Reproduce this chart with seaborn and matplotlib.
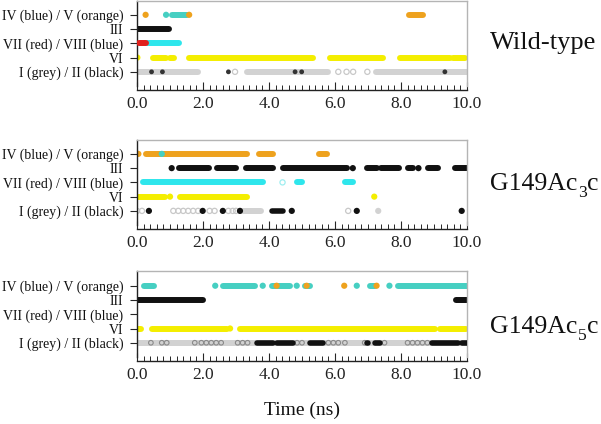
import matplotlib
matplotlib.use("Agg")
import matplotlib.pyplot as plt
import seaborn as sns
import pandas as pd
from matplotlib.ticker import MultipleLocator, FormatStrFormatter

# ---------------- data (time in ns) ----------------
row_labels = ["I (grey) / II (black)", "VI", "VII (red) / VIII (blue)", "III",
              "IV (blue) / V (orange)"]
# (main text, subscript, trailing text)
panel_titles = [("Wild-type", "", ""), ("G149Ac", "3", "c"), ("G149Ac", "5", "c")]

# Wild-type
wt_V = [(0.26, 0.26), (1.58, 1.58), (8.25, 8.68)]
wt_IV = [(0.88, 0.88), (1.05, 1.52)]
wt_III = [(0.0, 0.98)]
wt_VII = [(0.07, 0.27)]
wt_VIII = [(0.29, 1.28)]
wt_VI = [(0.01, 0.01), (0.47, 0.88), (1.0, 1.13), (1.56, 5.32), (5.85, 7.46),
         (7.97, 9.48), (9.58, 9.94)]
wt_I = [(0.04, 1.86), (3.32, 5.8), (7.24, 9.99)]
wt_I_open = [2.97, 6.1, 6.35, 6.55, 6.98]
wt_II = [(0.44, 0.44), (0.77, 0.77), (2.77, 2.77), (4.79, 4.79), (4.99, 4.99),
         (9.33, 9.33)]

# G149Ac3c
c3_V = [(0.04, 0.04), (0.27, 3.32), (3.7, 4.11), (5.53, 5.75)]
c3_IV = [(0.75, 0.75)]
c3_III = [(1.05, 1.05), (1.28, 2.19), (2.41, 3.0), (3.3, 4.11), (4.41, 6.37),
          (6.54, 6.54), (6.98, 7.26), (7.38, 7.95), (8.2, 8.37), (8.53, 8.53),
          (8.83, 9.13), (9.64, 9.99)]
c3_VII = []
c3_VIII = [(0.17, 3.81), (4.84, 4.99), (6.3, 6.54)]
c3_VIII_open = [4.41]
c3_VI = [(0.0, 0.85), (1.0, 1.0), (1.3, 3.32), (7.19, 7.19)]
c3_I = [(3.22, 3.75), (7.31, 7.31)]
c3_I_open = [0.0, 0.15, 1.1, 1.25, 1.4, 1.55, 1.7, 1.85, 2.2, 2.35, 2.77, 2.9,
             3.0, 6.4]
c3_II = [(0.36, 0.36), (1.99, 1.99), (2.6, 2.6), (3.12, 3.12), (4.08, 4.43),
         (4.69, 4.69), (6.66, 6.66), (9.84, 9.84)]

# G149Ac5c
c5_V = [(4.23, 4.23), (5.14, 5.14), (6.28, 6.28), (7.26, 7.26)]
c5_IV = [(0.21, 0.52), (2.37, 2.37), (2.62, 3.58), (3.81, 3.81), (4.08, 4.64),
         (4.84, 4.84), (5.09, 5.24), (6.66, 6.66), (7.06, 7.22), (7.65, 7.65),
         (7.92, 9.99)]
c5_III = [(0.0, 1.99), (9.67, 9.99)]
c5_VII = []
c5_VIII = []
c5_VI = [(0.0, 0.11), (0.44, 2.72), (2.82, 2.82), (3.12, 9.03), (9.18, 9.97)]
c5_I = [(0.0, 9.99)]
c5_I_open = []
c5_I_mid = [0.42, 0.75, 0.9, 1.75, 1.95, 2.1, 2.25, 2.4, 2.55, 3.05, 3.2, 3.35,
            4.85, 5.0, 5.8, 5.95, 6.1, 6.3, 6.9, 7.5, 8.2, 8.35, 8.5, 8.65, 8.8]
c5_II = [(3.63, 4.13), (4.23, 4.73), (5.24, 5.64), (6.98, 7.0), (7.2, 7.35),
         (8.93, 9.74), (9.85, 9.99)]

# ---------------- style ----------------
sns.set_style("white")
plt.rcParams["font.family"] = ["Liberation Serif", "DejaVu Serif"]

C_ORANGE = "#eea21e"
C_TEAL = "#46cfc2"
C_CYAN = "#2ee6ec"
C_YELLOW = "#f4ee00"
C_RED = "#e0201c"
C_GREY = "#d2d2d2"
C_BLACK = "#111111"

LW = 4.3
MS = 20

fig = plt.figure(figsize=(6.01, 4.24), dpi=100)
bottoms = [0.797, 0.469, 0.158]
panels = [
    dict(V=wt_V, IV=wt_IV, III=wt_III, VII=wt_VII, VIII=wt_VIII, VI=wt_VI,
         I=wt_I, I_open=wt_I_open, II=wt_II, VIII_open=[], I_mid=[]),
    dict(V=c3_V, IV=c3_IV, III=c3_III, VII=c3_VII, VIII=c3_VIII, VI=c3_VI,
         I=c3_I, I_open=c3_I_open, II=c3_II, VIII_open=c3_VIII_open, I_mid=[]),
    dict(V=c5_V, IV=c5_IV, III=c5_III, VII=c5_VII, VIII=c5_VIII, VI=c5_VI,
         I=c5_I, I_open=c5_I_open, II=c5_II, VIII_open=[], I_mid=c5_I_mid),
]
title_y = [0.884, 0.552, 0.214]
title_size = [19, 18.5, 18.5]


def draw(ax, segs, row, color, z, s=MS, lw=LW):
    lines = [(a, b) for a, b in segs if b > a]
    dots = [a for a, b in segs if b == a]
    if lines:
        ax.hlines([row] * len(lines), [a for a, _ in lines], [b for _, b in lines],
                  colors=color, linewidth=lw, capstyle="round", zorder=z)
    if dots:
        df = pd.DataFrame({"t": dots, "row": [row] * len(dots)})
        sns.scatterplot(data=df, x="t", y="row", ax=ax, color=color, s=s,
                        edgecolor="none", zorder=z + 0.5, legend=False)


def draw_open(ax, pts, row, color, z, lw=0.9, s=14):
    if pts:
        df = pd.DataFrame({"t": pts, "row": [row] * len(pts)})
        sns.scatterplot(data=df, x="t", y="row", ax=ax, s=s, marker="o",
                        facecolor="none", edgecolor=color, linewidth=lw,
                        zorder=z, legend=False)


for i, p in enumerate(panels):
    ax = fig.add_axes([0.228, bottoms[i], 0.549, 0.2017])
    draw(ax, p["I"], 0, C_GREY, 2)
    draw_open(ax, p["I_open"], 0, "#c8c8c8", 2)
    draw_open(ax, p["I_mid"], 0, "#8a8a8a", 2.2, lw=0.8, s=11)
    if i == 0:
        draw(ax, p["II"], 0, "#333333", 3, s=12)
    else:
        draw(ax, p["II"], 0, C_BLACK, 3, lw=4.0)
    draw(ax, p["VI"], 1, C_YELLOW, 2)
    draw(ax, p["VIII"], 2, C_CYAN, 2)
    draw_open(ax, p["VIII_open"], 2, "#9eeef0", 2)
    draw(ax, p["VII"], 2, C_RED, 3)
    draw(ax, p["III"], 3, C_BLACK, 2)
    if i == 1:
        draw(ax, p["V"], 4, C_ORANGE, 2)
        draw(ax, p["IV"], 4, C_TEAL, 3)
    else:
        draw(ax, p["IV"], 4, C_TEAL, 2)
        draw(ax, p["V"], 4, C_ORANGE, 3)

    ax.set_xlim(0, 10)
    ax.set_ylim(-1.0, 5.0)
    ax.set_xlabel("")
    ax.set_ylabel("")
    ax.set_yticks(range(5))
    ax.set_yticklabels(row_labels, fontsize=10)
    ax.xaxis.set_major_locator(MultipleLocator(2))
    ax.xaxis.set_minor_locator(MultipleLocator(0.2))
    ax.xaxis.set_major_formatter(FormatStrFormatter("%.1f"))
    ax.tick_params(axis="x", which="major", direction="in", length=6, width=0.8,
                   labelsize=12.5, labelcolor="#222222", pad=4, bottom=True)
    ax.tick_params(axis="x", which="minor", direction="in", length=3.5,
                   width=0.7, bottom=True)
    ax.tick_params(axis="y", direction="out", length=5, width=0.8, pad=5,
                   left=True, labelcolor="#111111")
    for s in ["top", "right"]:
        ax.spines[s].set_color("#b4b4b4")
        ax.spines[s].set_linewidth(1.0)
    for s in ["left", "bottom"]:
        ax.spines[s].set_color("#222222")
        ax.spines[s].set_linewidth(1.0)
    ax.spines["bottom"].set_position(("outward", 3))

# panel titles with a real subscript drawn as separate text pieces
renderer = fig.canvas.get_renderer()
for i, (main, sub, tail) in enumerate(panel_titles):
    fs = title_size[i]
    x0 = 0.816
    t = fig.text(x0, title_y[i], main, fontsize=fs, va="baseline", ha="left",
                 color="#111111")
    if sub:
        bb = t.get_window_extent(renderer)
        x1 = bb.x1 / fig.bbox.width
        ts = fig.text(x1, title_y[i] - 0.016, sub, fontsize=fs * 0.68,
                      va="baseline", ha="left", color="#111111")
        bb2 = ts.get_window_extent(renderer)
        x2 = bb2.x1 / fig.bbox.width
        fig.text(x2, title_y[i], tail, fontsize=fs, va="baseline", ha="left",
                 color="#111111")

fig.text(0.503, 0.033, "Time (ns)", fontsize=14, ha="center", va="center",
         color="#111111")

fig.savefig("out.png", dpi=100)
